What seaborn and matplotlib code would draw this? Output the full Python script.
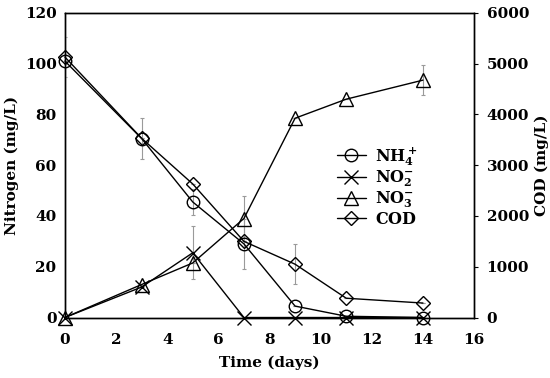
import numpy as np
import pandas as pd
import matplotlib
matplotlib.use('Agg')
import matplotlib.pyplot as plt
import seaborn as sns
from matplotlib.lines import Line2D

# datos
days = [0, 3, 5, 7, 9, 11, 14]
nh4 = [101, 70.5, 45.5, 29, 4.5, 0.5, 0]
nh4_err = [0, 8, 5, 10, 0, 0, 0]
no2 = [0, 12, 25.5, 0, 0, 0, 0]
no2_err = [0, 0, 10.5, 0, 0, 0, 0]
no3 = [0, 13, 21.5, 39, 78.5, 86, 93.5]
no3_err = [0, 0, 0, 9, 0, 0, 6]
cod = [5130, 3530, 2630, 1500, 1050, 380, 285]
cod_err = [400, 0, 0, 0, 390, 0, 0]

labels = [r'$\mathbf{NH_4^+}$', r'$\mathbf{NO_2^{-}}$', r'$\mathbf{NO_3^{-}}$', r'$\mathbf{COD}$']

sns.set_style('white')
plt.rcParams['font.family'] = ['DejaVu Serif']
plt.rcParams['font.weight'] = 'bold'
plt.rcParams['mathtext.fontset'] = 'dejavuserif'
plt.rcParams['text.color'] = 'black'
plt.rcParams['axes.labelcolor'] = 'black'
plt.rcParams['xtick.color'] = 'black'
plt.rcParams['ytick.color'] = 'black'

fig = plt.figure(figsize=(5.5, 3.78), dpi=100)
ax = fig.add_axes([0.118, 0.16, 0.744, 0.806])
ax2 = ax.twinx()

err_kw = dict(fmt='none', ecolor='#9a9a9a', elinewidth=0.8, capsize=1.5, capthick=0.8)
ax.errorbar(days, nh4, yerr=nh4_err, **err_kw)
ax.errorbar(days, no2, yerr=no2_err, **err_kw)
ax.errorbar(days, no3, yerr=no3_err, **err_kw)
ax2.errorbar(days, cod, yerr=cod_err, **err_kw)

line_kw = dict(color='black', linewidth=1.0, mfc='none', mec='black', mew=1.0)
sns.lineplot(x=days, y=nh4, marker='o', ms=9, ax=ax, clip_on=False, **line_kw)
sns.lineplot(x=days, y=no2, marker='x', ms=10, ax=ax, clip_on=False, **line_kw)
sns.lineplot(x=days, y=no3, marker='^', ms=10, ax=ax, clip_on=False, **line_kw)
sns.lineplot(x=days, y=cod, marker='D', ms=7, ax=ax2, clip_on=False, **line_kw)

ax.set_xlim(0, 16)
ax.set_ylim(0, 120)
ax2.set_ylim(0, 6000)
ax.set_xticks(range(0, 17, 2))
ax.set_yticks(range(0, 121, 20))
ax2.set_yticks(range(0, 6001, 1000))
ax.tick_params(axis='y', labelsize=11, length=0, pad=6)
ax.tick_params(axis='x', labelsize=11, length=0, pad=11)
ax2.tick_params(labelsize=11, length=3, direction='out', right=True, pad=6)
for a in [ax, ax2]:
    for s in a.spines.values():
        s.set_color('black')
        s.set_linewidth(1.0)
ax.set_xlabel('Time (days)', fontsize=11, fontweight='bold', labelpad=6)
ax.set_ylabel('Nitrogen (mg/L)', fontsize=11, fontweight='bold')
ax2.set_ylabel('COD (mg/L)', fontsize=11, fontweight='bold')

handles = [
    Line2D([], [], marker='o', ms=9, **line_kw),
    Line2D([], [], marker='x', ms=10, **line_kw),
    Line2D([], [], marker='^', ms=10, **line_kw),
    Line2D([], [], marker='D', ms=7, **line_kw),
]
ax2.legend(handles, labels, loc='center left', bbox_to_anchor=(0.665, 0.43),
           frameon=False, fontsize=11.5, handlelength=1.8, handletextpad=0.6,
           labelspacing=0.05, borderpad=0, borderaxespad=0)

fig.savefig('out.png', dpi=100)
